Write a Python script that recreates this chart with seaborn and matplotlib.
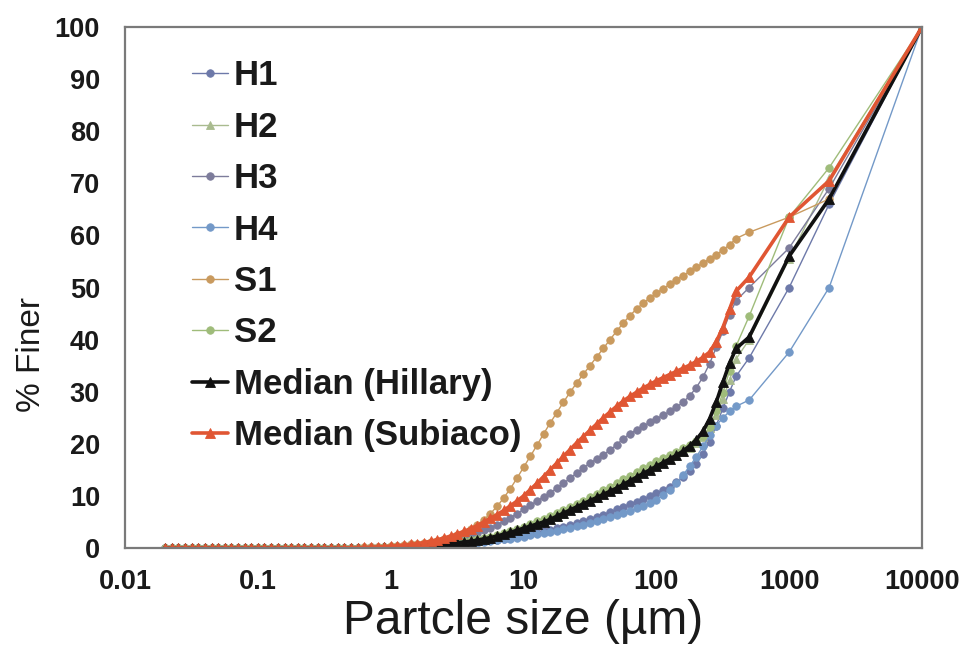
import matplotlib
matplotlib.use("Agg")
import matplotlib.pyplot as plt
import seaborn as sns
from matplotlib.ticker import FixedLocator, FixedFormatter, NullLocator

# particle size classes (um)
sizes = [0.020, 0.0224, 0.0252, 0.0283, 0.0317, 0.0356, 0.0399, 0.0448, 0.0502, 0.0564,
         0.0632, 0.0710, 0.0796, 0.0893, 0.100, 0.112, 0.126, 0.142, 0.159, 0.178,
         0.200, 0.224, 0.252, 0.283, 0.317, 0.356, 0.399, 0.448, 0.502, 0.564,
         0.632, 0.710, 0.796, 0.893, 1.002, 1.125, 1.262, 1.416, 1.589, 1.783,
         2.000, 2.244, 2.518, 2.825, 3.170, 3.557, 3.991, 4.477, 5.024, 5.637,
         6.325, 7.096, 7.962, 8.934, 10.02, 11.25, 12.62, 14.16, 15.89, 17.83,
         20.00, 22.44, 25.18, 28.25, 31.70, 35.57, 39.91, 44.77, 50.24, 56.37,
         63.25, 70.96, 79.62, 89.34, 100.2, 112.5, 126.2, 141.6, 158.9, 178.3,
         200.0, 224.4, 251.8, 282.5, 317.0, 355.7, 399.1, 500, 1000, 2000, 10000]

h1 = [0, 0, 0, 0, 0, 0, 0, 0, 0, 0, 0, 0, 0, 0, 0, 0, 0, 0, 0, 0, 0, 0, 0, 0, 0, 0, 0,
      0.0, 0.0, 0.01, 0.02, 0.03, 0.05, 0.07, 0.09, 0.12, 0.16,
      0.2, 0.25, 0.31, 0.38, 0.46, 0.55, 0.65, 0.76, 0.88, 1.0,
      1.15, 1.3, 1.45, 1.6, 1.8, 2.0, 2.2, 2.45, 2.7, 2.95,
      3.2, 3.5, 3.8, 4.1, 4.4, 4.8, 5.2, 5.6, 6.0, 6.4,
      6.9, 7.4, 7.9, 8.4, 8.9, 9.4, 9.9, 10.5, 11.1, 11.8,
      12.6, 13.6, 14.8, 16.2, 18.0, 20.4, 23.5, 26.8, 30.0, 33.0,
      36.5, 50.0, 66.0, 100]

h2 = [0, 0, 0, 0, 0, 0, 0, 0, 0, 0, 0, 0, 0, 0, 0, 0, 0, 0, 0, 0, 0, 0, 0, 0, 0, 0, 0,
      0.0, 0.01, 0.02, 0.03, 0.04, 0.06, 0.09, 0.12, 0.16, 0.21,
      0.27, 0.34, 0.42, 0.52, 0.62, 0.73, 0.85, 0.98, 1.12, 1.3,
      1.5, 1.72, 1.98, 2.25, 2.55, 2.9, 3.25, 3.7, 4.15, 4.6,
      5.1, 5.6, 6.1, 6.6, 7.2, 7.8, 8.4, 9.0, 9.6, 10.3,
      11.0, 11.7, 12.4, 13.1, 13.8, 14.5, 15.2, 15.9, 16.5, 17.1,
      17.7, 18.4, 19.2, 20.2, 21.4, 23.0, 25.5, 28.6, 32.2, 36.3,
      40.0, 55.5, 71.0, 100]

h3 = [0, 0, 0, 0, 0, 0, 0, 0, 0, 0, 0, 0, 0, 0, 0, 0, 0, 0, 0, 0, 0, 0, 0, 0, 0, 0, 0,
      0.02, 0.03, 0.05, 0.07, 0.1, 0.14, 0.19, 0.25, 0.32, 0.4,
      0.5, 0.62, 0.75, 0.9, 1.05, 1.25, 1.5, 1.8, 2.1, 2.5,
      2.9, 3.4, 3.9, 4.5, 5.1, 5.8, 6.6, 7.4, 8.2, 9.0,
      9.8, 10.6, 11.5, 12.4, 13.4, 14.4, 15.4, 16.3, 17.1, 17.9,
      18.8, 19.8, 21.0, 21.9, 22.7, 23.4, 24.1, 24.8, 25.5, 26.2,
      27.0, 28.0, 29.2, 30.8, 32.8, 35.4, 38.5, 41.6, 44.8, 47.5,
      50.0, 57.6, 69.0, 100]

h4 = [0, 0, 0, 0, 0, 0, 0, 0, 0, 0, 0, 0, 0, 0, 0, 0, 0, 0, 0, 0, 0, 0, 0, 0, 0, 0, 0,
      0.0, 0.0, 0.01, 0.02, 0.03, 0.04, 0.06, 0.08, 0.1, 0.13,
      0.17, 0.21, 0.26, 0.32, 0.39, 0.47, 0.56, 0.66, 0.77, 0.89,
      1.02, 1.16, 1.31, 1.47, 1.64, 1.82, 2.0, 2.2, 2.4, 2.6,
      2.85, 3.1, 3.35, 3.6, 3.9, 4.2, 4.5, 4.8, 5.1, 5.5,
      5.9, 6.3, 6.7, 7.1, 7.6, 8.1, 8.7, 9.3, 10.1, 11.1,
      12.4, 14.0, 15.7, 17.5, 19.5, 21.6, 23.5, 25.0, 26.2, 27.2,
      28.4, 37.6, 50.0, 100]

s1 = [0, 0, 0, 0, 0, 0, 0, 0, 0, 0, 0, 0, 0, 0, 0, 0, 0, 0, 0, 0, 0, 0, 0, 0, 0, 0, 0,
      0.03, 0.05, 0.07, 0.1, 0.15, 0.2, 0.28, 0.35, 0.45, 0.55,
      0.7, 0.85, 1.0, 1.2, 1.4, 1.7, 2.0, 2.4, 2.9, 3.6,
      4.4, 5.4, 6.6, 8.0, 9.6, 11.4, 13.4, 15.5, 17.6, 19.7,
      21.9, 24.0, 26.0, 28.0, 29.9, 31.7, 33.4, 35.0, 36.7, 38.3,
      40.0, 41.6, 43.2, 44.6, 45.9, 47.0, 48.0, 48.9, 49.8, 50.6,
      51.5, 52.3, 53.1, 53.9, 54.7, 55.5, 56.3, 57.2, 58.2, 59.4,
      60.6, 63.5, 67.0, 100]

s2 = [0, 0, 0, 0, 0, 0, 0, 0, 0, 0, 0, 0, 0, 0, 0, 0, 0, 0, 0, 0, 0, 0, 0, 0, 0, 0, 0,
      0.0, 0.01, 0.02, 0.03, 0.05, 0.07, 0.1, 0.14, 0.18, 0.24,
      0.3, 0.38, 0.48, 0.58, 0.7, 0.82, 0.95, 1.1, 1.25, 1.45,
      1.65, 1.9, 2.2, 2.5, 2.85, 3.2, 3.6, 4.1, 4.6, 5.1,
      5.6, 6.1, 6.7, 7.3, 7.9, 8.5, 9.1, 9.7, 10.4, 11.1,
      11.8, 12.5, 13.2, 13.9, 14.6, 15.3, 16.0, 16.7, 17.3, 17.9,
      18.5, 19.1, 19.8, 20.5, 21.5, 23.2, 26.2, 29.8, 34.0, 38.8,
      44.5, 63.5, 73.0, 100]

median_hillary = [0, 0, 0, 0, 0, 0, 0, 0, 0, 0, 0, 0, 0, 0, 0, 0, 0, 0, 0, 0, 0, 0, 0, 0, 0, 0, 0,
      0.0, 0.01, 0.02, 0.03, 0.05, 0.07, 0.1, 0.13, 0.17, 0.22,
      0.28, 0.35, 0.45, 0.55, 0.65, 0.75, 0.88, 1.0, 1.15, 1.3,
      1.5, 1.75, 2.0, 2.3, 2.65, 3.0, 3.4, 3.8, 4.2, 4.6,
      5.0, 5.5, 6.1, 6.7, 7.3, 7.9, 8.5, 9.1, 9.7, 10.3,
      10.9, 11.5, 12.2, 12.9, 13.6, 14.3, 15.0, 15.7, 16.4, 17.1,
      17.8, 18.6, 19.6, 20.8, 22.4, 24.8, 28.0, 31.8, 35.5, 38.3,
      40.5, 56.0, 67.0, 100]

median_subiaco = [0, 0, 0, 0, 0, 0, 0, 0, 0, 0, 0, 0, 0, 0, 0, 0, 0, 0, 0, 0, 0, 0, 0, 0, 0, 0, 0,
      0.03, 0.05, 0.07, 0.1, 0.15, 0.2, 0.28, 0.35, 0.45, 0.55,
      0.7, 0.85, 1.05, 1.3, 1.6, 1.9, 2.3, 2.7, 3.2, 3.7,
      4.3, 5.0, 5.7, 6.4, 7.2, 8.1, 9.0, 10.0, 11.2, 12.4,
      13.7, 15.0, 16.3, 17.6, 18.9, 20.2, 21.4, 22.6, 23.8, 25.0,
      26.1, 27.2, 28.2, 29.1, 29.9, 30.7, 31.4, 32.1, 32.7, 33.3,
      33.9, 34.5, 35.1, 35.8, 36.6, 37.6, 39.6, 42.3, 45.8, 49.3,
      52.0, 63.5, 70.5, 100]

series_names = ["H1", "H2", "H3", "H4", "S1", "S2", "Median (Hillary)", "Median (Subiaco)"]
series_values = [h1, h2, h3, h4, s1, s2, median_hillary, median_subiaco]

x_ticks = [0.01, 0.1, 1, 10, 100, 1000, 10000]
x_tick_labels = ["0.01", "0.1", "1", "10", "100", "1000", "10000"]
y_ticks = [0, 10, 20, 30, 40, 50, 60, 70, 80, 90, 100]

# styles: color, marker, linewidth, markersize
styles = {
    "H1": ("#6d79a9", "o", 1.0, 5.4),
    "H2": ("#a9bb8f", "^", 1.0, 5.6),
    "H3": ("#7d7c9b", "o", 1.0, 5.4),
    "H4": ("#7399c8", "o", 1.0, 5.4),
    "S1": ("#c99a5e", "o", 1.0, 5.4),
    "S2": ("#9fbc7a", "o", 1.0, 5.4),
    "Median (Hillary)": ("#111111", "^", 2.6, 7.0),
    "Median (Subiaco)": ("#e05633", "^", 2.6, 7.0),
}

sns.set_style("white")
plt.rcParams['font.family'] = ['Liberation Sans', 'DejaVu Sans']

fig = plt.figure(figsize=(9.63, 6.55), dpi=100)
ax = fig.add_axes([125 / 963, 1 - 548 / 655, 797 / 963, 521 / 655])

for name, vals in zip(series_names, series_values):
    c, m, lw, ms = styles[name]
    sns.lineplot(x=sizes, y=vals, ax=ax, color=c, marker=m, linewidth=lw,
                 markersize=ms, markeredgecolor=c, markeredgewidth=0.6,
                 label=name, sort=False, estimator=None)

ax.set_xscale("log")
ax.set_xlim(0.01, 10000)
ax.set_ylim(0, 100)
ax.xaxis.set_major_locator(FixedLocator(x_ticks))
ax.xaxis.set_major_formatter(FixedFormatter(x_tick_labels))
ax.xaxis.set_minor_locator(NullLocator())
ax.yaxis.set_major_locator(FixedLocator(y_ticks))

for sp in ax.spines.values():
    sp.set_color("#7a7a7a")
    sp.set_linewidth(1.6)

ax.tick_params(axis="both", which="major", direction="in", length=6, width=1.3,
               color="#555555", labelsize=19.5, labelcolor="#1a1a1a")
ax.tick_params(axis="y", pad=18)
ax.tick_params(axis="x", pad=15)
for lbl in ax.get_xticklabels() + ax.get_yticklabels():
    lbl.set_fontweight("bold")

ax.set_xlabel("Partcle size (µm)", fontsize=34.5, color="#1a1a1a")
ax.xaxis.set_label_coords(0.5, -0.098)
ax.set_ylabel("")
fig.text(31 / 963, 1 - 355 / 655, "% Finer", fontsize=24, color="#1a1a1a",
         rotation=90, ha="center", va="center")

leg = ax.legend(loc="upper left", bbox_to_anchor=(0.084, 0.938), frameon=False,
                prop={"weight": "bold", "size": 25}, handlelength=1.05,
                handletextpad=0.15, labelspacing=0.53, borderaxespad=0, borderpad=0)
for t in leg.get_texts():
    t.set_color("#1a1a1a")

fig.savefig("out.png", dpi=100)
